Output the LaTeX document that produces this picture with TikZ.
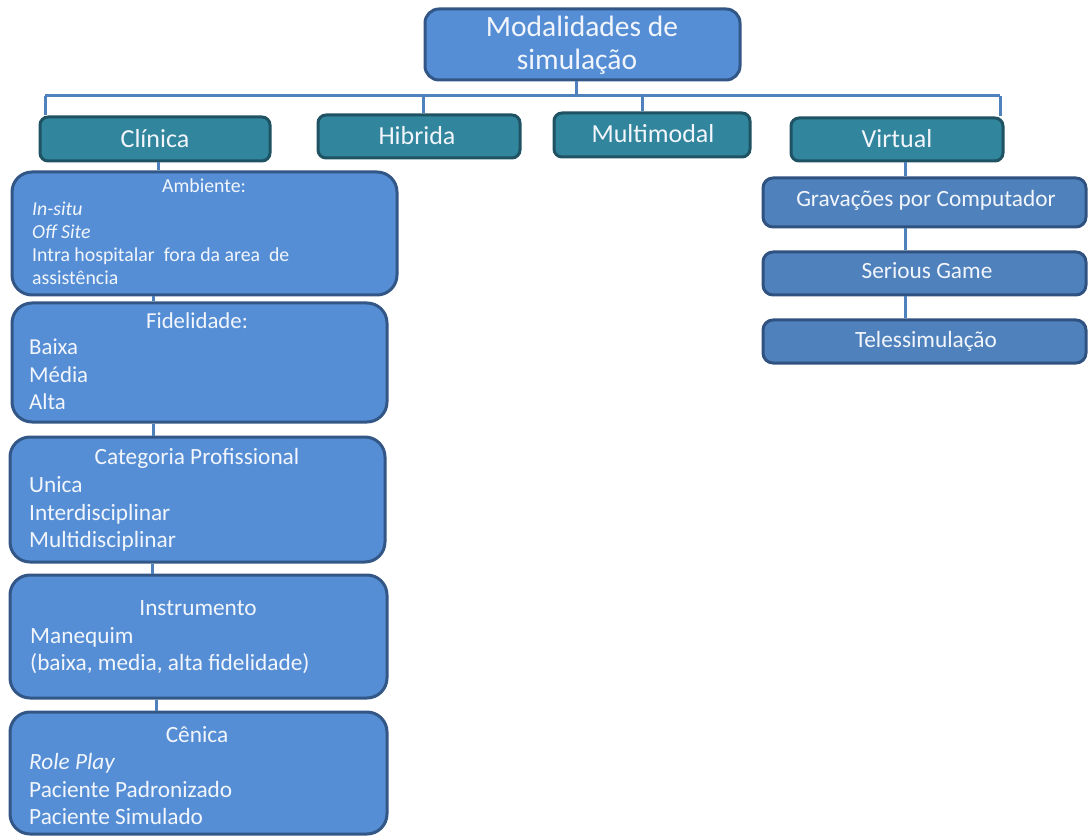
\documentclass[tikz,border=0pt]{standalone}
\usepackage{fontspec}
\setmainfont{Carlito}
\definecolor{mainblue}{RGB}{85,142,213}
\definecolor{mainborder}{RGB}{50,86,134}
\definecolor{tealfill}{RGB}{49,133,156}
\definecolor{tealborder}{RGB}{31,82,98}
\definecolor{virtfill}{RGB}{79,129,189}
\definecolor{virtborder}{RGB}{48,82,128}
\definecolor{conn}{RGB}{79,129,189}
\definecolor{txt}{RGB}{242,246,252}
\begin{document}
\begin{tikzpicture}[x=1pt,y=-1pt,
  boxbase/.style={draw, line width=3pt, inner sep=0pt},
  topbox/.style={boxbase, fill=mainblue, draw=mainborder, rounded corners=14pt},
  tealbox/.style={boxbase, fill=tealfill, draw=tealborder, rounded corners=8pt},
  bluebox/.style={boxbase, fill=mainblue, draw=mainborder, rounded corners=20pt},
  virtbox/.style={boxbase, fill=virtfill, draw=virtborder, rounded corners=10pt},
  connector/.style={draw=conn, line width=3pt},
  ttl/.style={text=txt, inner sep=0pt, anchor=base},
  line/.style={text=txt, inner sep=0pt, anchor=base west},
  fTop/.style={font=\fontsize{29.5}{34}\selectfont},
  fOne/.style={font=\fontsize{26}{30}\selectfont},
  fAmb/.style={font=\fontsize{19.8}{23}\selectfont},
  fBody/.style={font=\fontsize{23.3}{27}\selectfont},
  fFid/.style={font=\fontsize{22.8}{27}\selectfont}
]
\useasboundingbox (0,0) rectangle (1088,837);

% ---- boxes ----
\node[topbox, minimum width=315pt, minimum height=71pt] (top) at (582.5,44.5) {};
\node[tealbox, minimum width=230pt, minimum height=44pt] (cli) at (155,139) {};
\node[tealbox, minimum width=202pt, minimum height=43pt] (hib) at (419,136.5) {};
\node[tealbox, minimum width=196pt, minimum height=44pt] (mul) at (652,135) {};
\node[tealbox, minimum width=212pt, minimum height=43pt] (vir) at (897,139.5) {};

\node[bluebox, minimum width=385pt, minimum height=123pt] (amb) at (204.5,233.5) {};
\node[bluebox, minimum width=375pt, minimum height=119pt] (fid) at (199.5,362.5) {};
\node[bluebox, minimum width=375pt, minimum height=125pt] (cat) at (197.5,499.5) {};
\node[bluebox, minimum width=377pt, minimum height=123pt] (ins) at (198.5,636.5) {};
\node[bluebox, minimum width=377pt, minimum height=122pt] (cen) at (198.5,773) {};

\node[virtbox, minimum width=323pt, minimum height=49pt] (gra) at (924.5,202.5) {};
\node[virtbox, minimum width=323pt, minimum height=43pt] (ser) at (924.5,273.5) {};
\node[virtbox, minimum width=323pt, minimum height=43pt] (tel) at (924.5,341.5) {};

% ---- connectors ----
\coordinate (ts) at (576,96);
\coordinate (bl) at (45,96);
\coordinate (bh) at (423,96);
\coordinate (bm) at (642,96);
\coordinate (br) at (1000,96);
\draw[connector] (ts |- top.south) -- (ts);
\draw[connector] (bl) -- (br);
\draw[connector] (bl) -- (bl |- cli.north);
\draw[connector] (bh) -- (bh |- hib.north);
\draw[connector] (bm) -- (bm |- mul.north);
\draw[connector] (br) -- (br |- vir.north);

\draw[connector] (158,0 |- cli.south) -- (158,0 |- amb.north);
\draw[connector] (153,0 |- amb.south) -- (153,0 |- fid.north);
\draw[connector] (153,0 |- fid.south) -- (153,0 |- cat.north);
\draw[connector] (152,0 |- cat.south) -- (152,0 |- ins.north);
\draw[connector] (156,0 |- ins.south) -- (156,0 |- cen.north);

\draw[connector] (905,0 |- vir.south) -- (905,0 |- gra.north);
\draw[connector] (905,0 |- gra.south) -- (905,0 |- ser.north);
\draw[connector] (905,0 |- ser.south) -- (905,0 |- tel.north);

% ---- texts ----
\node[ttl, fTop] (t1) at (582,37) {Modalidades de};
\node[ttl, fTop] (t2) at (577,70) {simulação};
\node[ttl, fOne] (tcli) at (155,148) {Clínica};
\node[ttl, fOne] (thib) at (417,145) {Hibrida};
\node[ttl, fOne] (tmul) at (653,143) {Multimodal};
\node[ttl, fOne] (tvir) at (897,148) {Virtual};

\node[ttl, fAmb] (a0) at (204,193) {Ambiente:};
\node[line, fAmb] (a1) at (32,216) {\itshape In-situ};
\node[line, fAmb] (a2) at (32,239) {\itshape Off Site};
\node[line, fAmb] (a3) at (32,262) {Intra hospitalar\ \ fora da area\ \ de};
\node[line, fAmb] (a4) at (32,285) {assistência};

\node[ttl, fFid] (f0) at (197,329) {Fidelidade:};
\node[line, fFid] (f1) at (29,355) {Baixa};
\node[line, fFid] (f2) at (29,382) {Média};
\node[line, fFid] (f3) at (29,409) {Alta};

\node[ttl, fBody] (c0) at (197,464) {Categoria Profissional};
\node[line, fBody] (c1) at (29,492) {Unica};
\node[line, fBody] (c2) at (29,520) {Interdisciplinar};
\node[line, fBody] (c3) at (29,547) {Multidisciplinar};

\node[ttl, fBody] (i0) at (198,615) {Instrumento};
\node[line, fBody] (i1) at (30,643) {Manequim};
\node[line, fBody] (i2) at (30,670) {(baixa, media, alta fidelidade)};

\node[ttl, fBody] (e0) at (197,742) {Cênica};
\node[line, fBody] (e1) at (29,769) {\itshape Role Play};
\node[line, fBody] (e2) at (29,797) {Paciente Padronizado};
\node[line, fBody] (e3) at (29,824) {Paciente Simulado};

\node[ttl, fBody] (g0) at (926,207) {Gravações por Computador};
\node[ttl, fBody] (s0) at (927,279) {Serious Game};
\node[ttl, fBody] (l0) at (926,348) {Telessimulação};
\end{tikzpicture}
\end{document}
